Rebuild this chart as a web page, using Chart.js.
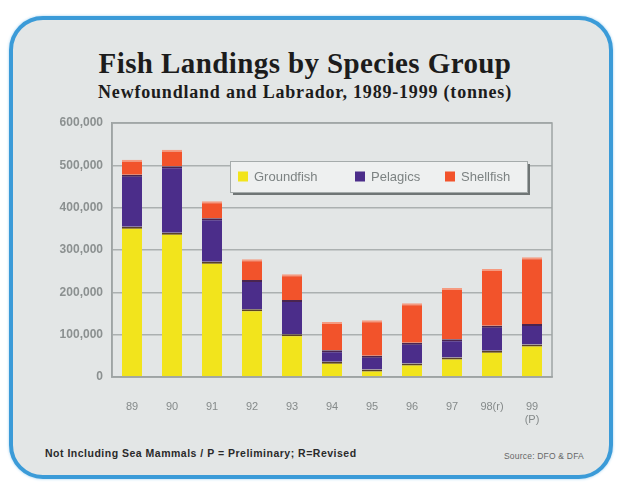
<!DOCTYPE html>
<html><head><meta charset="utf-8">
<script src="https://cdn.jsdelivr.net/npm/chart.js@4/dist/chart.umd.min.js"></script>
<style>
html,body{margin:0;padding:0;background:#fff;}
#wrap{position:relative;width:620px;height:486px;overflow:hidden;background:#fff;}
#frame{position:absolute;left:9px;top:16px;width:596px;height:455px;border:4px solid #3b9bd8;border-radius:34px;background:#e3e6e6;box-shadow:0 0 3px #9fd0f0;}
.t{position:absolute;left:0;width:610px;text-align:center;white-space:nowrap;color:#1c1c1c;}
#title{top:49px;font:bold 29px/29px "Liberation Serif","DejaVu Serif",serif;letter-spacing:0.4px;}
#sub{top:83px;font:bold 18px/18px "Liberation Serif","DejaVu Serif",serif;letter-spacing:0.8px;}
#note{position:absolute;left:45px;top:447px;font:bold 10.5px/12px "Liberation Sans",Arial,sans-serif;letter-spacing:0.5px;color:#2a2a2a;white-space:nowrap;}
#src{position:absolute;left:504px;top:451px;font:8.5px/10px "Liberation Sans",Arial,sans-serif;letter-spacing:0.2px;color:#666;white-space:nowrap;}
canvas{position:absolute;left:0;top:0;}
</style></head>
<body><div id="wrap">
<div id="frame"></div>
<div class="t" id="title">Fish Landings by Species Group</div>
<div class="t" id="sub">Newfoundland and Labrador, 1989-1999 (tonnes)</div>
<div id="note">Not Including Sea Mammals / P = Preliminary; R=Revised</div>
<div id="src">Source: DFO &amp; DFA</div>
<canvas id="c" width="620" height="486"></canvas>
</div>
<script>
const categories = ['89','90','91','92','93','94','95','96','97','98(r)',['99','(P)']];
const seriesNames = ['Groundfish','Pelagics','Shellfish'];
const groundfish = [355000,341000,272000,160000,101000,36000,18000,32000,46000,62000,77000];
const pelagics   = [123000,157000,103000,69000,81000,27000,32000,49000,43000,59000,48000];
const shellfish  = [35000,39000,40000,49000,61000,67000,84000,93000,121000,134000,158000];
const yTicks = [0,100000,200000,300000,400000,500000,600000];

const colors = ['#f2e41c','#4b2d8a','#f2532b'];
const topBorders = ['#5b4226','#4a2450','#f59a80'];

const frameAndLegend = {
  id:'frameAndLegend',
  beforeDatasetsDraw(chart){
    const {ctx, chartArea:a} = chart;
    ctx.save();
    ctx.strokeStyle='#9ea4a4'; ctx.lineWidth=1.5;
    ctx.strokeRect(a.left, a.top, a.right-a.left, a.bottom-a.top);
    ctx.restore();
  },
  afterDraw(chart){
    const ctx = chart.ctx;
    const bx=230, by=161, bw=297, bh=31;
    ctx.save();
    ctx.fillStyle='#6f7575';
    ctx.fillRect(bx+3, by+3, bw, bh);
    ctx.fillStyle='#eef0f0';
    ctx.fillRect(bx, by, bw, bh);
    ctx.strokeStyle='#a5abab'; ctx.lineWidth=1;
    ctx.strokeRect(bx+0.5, by+0.5, bw, bh);
    const mx=[238,355,445];
    ctx.font='13px "Liberation Sans", Arial, sans-serif';
    ctx.textBaseline='middle';
    chart.data.datasets.forEach((ds,i)=>{
      ctx.fillStyle=ds.backgroundColor;
      ctx.fillRect(mx[i], by+bh/2-5, 10, 10);
      ctx.fillStyle='#7c8282';
      ctx.fillText(ds.label, mx[i]+16, by+bh/2+1);
    });
    ctx.restore();
  }
};

new Chart(document.getElementById('c'), {
  type:'bar',
  data:{
    labels:categories,
    datasets:[groundfish,pelagics,shellfish].map((d,i)=>({
      label:seriesNames[i], data:d, backgroundColor:colors[i],
      borderColor:topBorders[i], borderWidth:{top:2,left:0,right:0,bottom:0},
      borderSkipped:false,
      barPercentage:0.5, categoryPercentage:1
    }))
  },
  options:{
    responsive:false, animation:false,
    layout:{padding:{left:42,right:68,top:123,bottom:59}},
    plugins:{legend:{display:false}, title:{display:false}, tooltip:{enabled:false}},
    scales:{
      x:{stacked:true,
         grid:{display:false},
         border:{display:true,color:'#9ea4a4',width:1.5},
         ticks:{color:'#858a8a',font:{family:'"Liberation Sans", Arial, sans-serif',size:11},padding:15,maxRotation:0,autoSkip:false},
         afterFit(s){s.height=50;}
      },
      y:{stacked:true,min:0,max:600000,
         afterBuildTicks(s){s.ticks=yTicks.map(v=>({value:v}));},
         grid:{color:'#abb0b0',lineWidth:1.5,drawTicks:false},
         border:{display:true,color:'#9ea4a4',width:1.5},
         ticks:{color:'#8b9090',padding:9,font:{family:'"Liberation Sans", Arial, sans-serif',size:12,weight:'bold'},
                callback:v=>v.toLocaleString('en-US')},
         afterFit(s){s.width=70;}
      }
    }
  },
  plugins:[frameAndLegend]
});
</script>
</body></html>
